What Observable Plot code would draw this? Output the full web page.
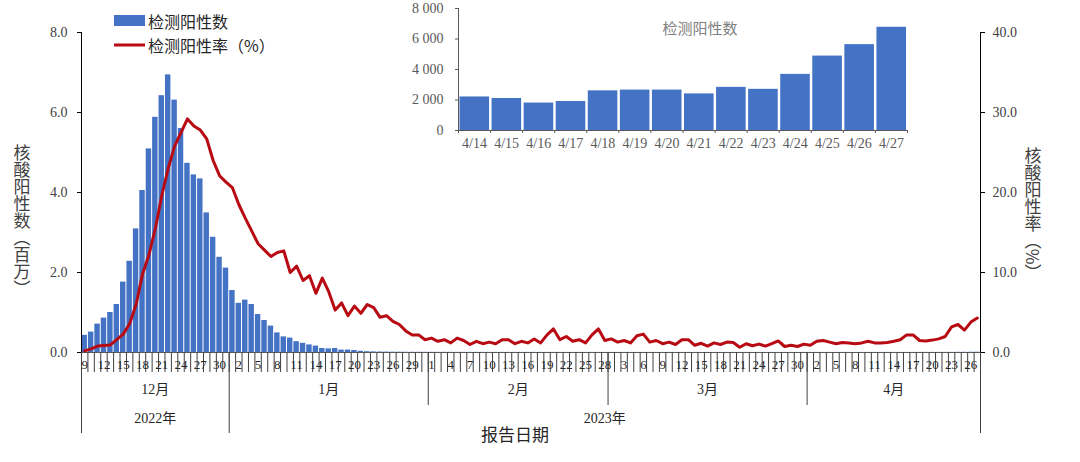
<!DOCTYPE html>
<html><head><meta charset="utf-8">
<script src="https://cdn.jsdelivr.net/npm/d3@7"></script>
<script src="https://cdn.jsdelivr.net/npm/@observablehq/plot@0.6"></script>
<style>
body{margin:0;background:#fff;}
#wrap{position:relative;width:1080px;height:462px;overflow:hidden;}
#main{position:absolute;left:0;top:0;}
#inset{position:absolute;left:400px;top:0;}
</style></head>
<body><div id="wrap"><div id="main"></div><div id="inset"></div></div>
<script>
// ---- data ----
const startDate = "2022-12-09";
// 检测阳性数 (百万) by month
const decPositives = [0.43,0.51,0.71,0.86,1.00,1.20,1.76,2.28,3.09,4.05,5.09,5.88,6.42,6.94,6.31,5.60,4.73,4.44,4.34,3.49,2.88,2.38,2.11];
const janPositives = [1.55,1.23,1.31,1.20,0.95,0.80,0.66,0.49,0.39,0.36,0.27,0.23,0.19,0.16,0.10,0.09,0.10,0.06,0.06,0.05,0.03,0.02,0.015,0.012,0.010,0.008,0.007,0.006,0.005,0.005,0.0045];
const febPositives = [0.0040,0.0038,0.0036,0.0035,0.0033,0.0031,0.0030,0.0029,0.0028,0.0027,0.0026,0.0026,0.0025,0.0025,0.0024,0.0024,0.0023,0.0023,0.0024,0.0025,0.0023,0.0022,0.0022,0.0021,0.0021,0.0022,0.0023,0.0022];
const marPositives = [0.0021,0.0020,0.0020,0.0019,0.0019,0.0020,0.0021,0.0020,0.0019,0.0018,0.0018,0.0017,0.0017,0.0018,0.0018,0.0017,0.0016,0.0016,0.0017,0.0017,0.0016,0.0016,0.0015,0.0016,0.0017,0.0016,0.0016,0.0015,0.0015,0.0016,0.0017];
const aprPositives1to13 = [0.0017,0.0018,0.0018,0.0017,0.0018,0.0019,0.0019,0.0018,0.0019,0.0020,0.0020,0.0021,0.0021];
// inset: 检测阳性数 4/14 - 4/27
const insetLabels = ["4/14","4/15","4/16","4/17","4/18","4/19","4/20","4/21","4/22","4/23","4/24","4/25","4/26","4/27"];
const insetCounts = [2200,2100,1800,1900,2600,2650,2650,2400,2830,2700,3680,4880,5630,6770];
// 检测阳性率 (%) by month
const decRate = [0.2,0.45,0.8,0.87,0.95,1.6,2.3,3.6,6.0,9.8,12.2,15.5,19.6,23.0,25.8,27.5,29.2,28.3,27.8,26.7,24.0,22.1,21.3];
const janRate = [20.6,18.5,16.8,15.2,13.6,12.8,12.0,12.5,12.7,10.0,10.8,9.0,9.6,7.4,9.3,7.6,5.3,6.2,4.6,5.8,4.9,6.0,5.6,4.4,4.6,3.9,3.5,2.7,2.2,2.2,1.6];
const febRate = [1.8,1.4,1.6,1.2,1.8,1.5,1.0,1.4,1.1,1.3,1.1,1.6,1.6,1.1,1.4,1.2,1.7,1.2,2.2,2.95,1.6,2.0,1.4,1.6,1.2,2.2,2.95,1.5];
const marRate = [1.7,1.3,1.5,1.2,2.1,2.3,1.3,1.5,1.1,1.3,1.0,1.6,1.6,0.9,1.15,0.8,1.2,1.0,1.3,1.25,0.65,1.1,0.85,1.05,0.8,1.1,1.45,0.75,0.9,0.75,1.05];
const aprRate = [0.9,1.4,1.5,1.3,1.1,1.25,1.2,1.1,1.2,1.4,1.2,1.2,1.25,1.4,1.6,2.2,2.2,1.5,1.45,1.55,1.7,2.0,3.2,3.5,2.8,3.8,4.3];
const monthNames = ["12月","1月","2月","3月","4月"];
const monthStarts = ["2022-12-09","2023-01-01","2023-02-01","2023-03-01","2023-04-01","2023-04-28"];
const yearNames = ["2022年","2023年"];
const yearStarts = ["2022-12-09","2023-01-01","2023-04-28"];
const leftTicks = [0,2,4,6,8];
const leftMax = 8, rightMax = 40;
const insetTicks = [0,2000,4000,6000,8000];

// ---- build ----
const DAY = 864e5;
const t0 = new Date(startDate + "T00:00:00Z");
const dayAt = i => new Date(t0.getTime() + i * DAY);
const toDate = s => new Date(s + "T00:00:00Z");
const positives = [...decPositives, ...janPositives, ...febPositives, ...marPositives, ...aprPositives1to13, ...insetCounts.map(c => c / 1e6)];
const rates = [...decRate, ...janRate, ...febRate, ...marRate, ...aprRate];
const rows = positives.map((v, i) => ({start: dayAt(i), end: dayAt(i + 1), mid: new Date(dayAt(i).getTime() + DAY / 2), pos: v, rate: rates[i]}));
const dayLabels = rows.filter((d, i) => i % 3 === 0).map(d => ({x: d.mid, text: String(d.mid.getUTCDate())}));
const months = monthNames.map((n, i) => ({name: n, x: new Date((toDate(monthStarts[i]).getTime() + toDate(monthStarts[i + 1]).getTime()) / 2)}));
const years = yearNames.map((n, i) => ({name: n, x: new Date((toDate(yearStarts[i]).getTime() + toDate(yearStarts[i + 1]).getTime()) / 2)}));
const dayBounds = d3.range(positives.length + 1).map(dayAt);
const monthBounds = monthStarts.slice(2, 5).map(toDate);
const yearBounds = yearStarts.map(toDate);
const xDomain = [dayAt(0), dayAt(positives.length)];
const serif = "Liberation Serif, Noto Sans CJK SC";
const cjk = "Noto Sans CJK SC, sans-serif";
const BLUE = "#4472C4", RED = "#B80A12";

const main = Plot.plot({
  width: 1080, height: 462,
  marginLeft: 81, marginRight: 100, marginTop: 32, marginBottom: 110,
  style: {fontFamily: serif, fontSize: "14px", color: "#404040", background: "transparent"},
  x: {type: "utc", domain: xDomain, axis: null},
  y: {domain: [0, leftMax], axis: null},
  marks: [
    Plot.rectY(rows, {x1: "start", x2: "end", y1: 0, y2: "pos", fill: BLUE, insetLeft: 0.5, insetRight: 0.5}),
    Plot.ruleY([0], {stroke: "#595959"}),
    Plot.ruleX([xDomain[0]], {stroke: "#000"}),
    Plot.ruleX([xDomain[1]], {stroke: "#000"}),
    Plot.axisY(leftTicks, {anchor: "left", tickSize: 4, tickPadding: 10, tickFormat: d => d.toFixed(1), label: null, fontSize: 14, fontFamily: serif, stroke: "#000"}),
    Plot.axisY(leftTicks, {anchor: "right", tickSize: 4, tickPadding: 8, tickFormat: d => (d * rightMax / leftMax).toFixed(1), label: null, fontSize: 14, fontFamily: serif, stroke: "#000"}),
    Plot.axisX(dayBounds, {tickSize: 20, tickFormat: () => "", label: null, stroke: "#404040"}),
    Plot.axisX(monthBounds, {tickSize: 53, tickFormat: () => "", label: null, stroke: "#404040"}),
    Plot.axisX(yearBounds, {tickSize: 81, tickFormat: () => "", label: null, stroke: "#404040"}),
    Plot.text(dayLabels, {x: "x", text: "text", frameAnchor: "bottom", dy: 16, fontSize: 13, fontFamily: serif, fill: "#262626"}),
    Plot.text(months, {x: "x", text: "name", frameAnchor: "bottom", dy: 41, fontSize: 14, fontFamily: serif, fill: "#262626"}),
    Plot.text(years, {x: "x", text: "name", frameAnchor: "bottom", dy: 70, fontSize: 14, fontFamily: serif, fill: "#262626"}),
    Plot.text(["报告日期"], {frameAnchor: "bottom", dx: -16, dy: 88, fontSize: 17, fontFamily: cjk, fill: "#262626"}),
    Plot.line(rows, {x: "mid", y: d => d.rate * leftMax / rightMax, stroke: RED, strokeWidth: 3, strokeLinejoin: "round"})
  ]
});
document.getElementById("main").append(main);

const s = d3.select(main);
function vtitle(x, y, t) {
  s.append("text").attr("x", x).attr("y", y).attr("text-anchor", "middle")
    .style("writing-mode", "vertical-rl").style("font-family", cjk).style("font-size", "17px")
    .attr("fill", "#404040").text(t);
}
vtitle(22, 221, "核酸阳性数︵百万︶");
vtitle(1033, 214, "核酸阳性率︵%︶");
// legend
const lg = s.append("g").attr("text-anchor", "start");
lg.append("rect").attr("x", 114).attr("y", 15).attr("width", 31).attr("height", 11).attr("fill", BLUE);
lg.append("text").attr("x", 148).attr("y", 21).attr("text-anchor", "start").attr("dominant-baseline", "central").style("font-family", cjk).style("font-size", "16px").attr("fill", "#262626").text("检测阳性数");
lg.append("line").attr("x1", 114).attr("x2", 145).attr("y1", 45).attr("y2", 45).attr("stroke", RED).attr("stroke-width", 3);
lg.append("text").attr("x", 148).attr("y", 45).attr("text-anchor", "start").attr("dominant-baseline", "central").style("font-family", cjk).style("font-size", "16px").attr("fill", "#262626").text("检测阳性率（%）");

// ---- inset ----
const i0 = toDate("2023-04-14");
const insetRows = insetCounts.map((v, i) => ({start: new Date(i0.getTime() + i * DAY), end: new Date(i0.getTime() + (i + 1) * DAY), mid: new Date(i0.getTime() + (i + 0.5) * DAY), v, label: insetLabels[i]}));
const insetBounds = d3.range(insetCounts.length + 1).map(i => new Date(i0.getTime() + i * DAY));
const inset = Plot.plot({
  width: 530, height: 160,
  marginLeft: 58, marginRight: 23, marginTop: 8, marginBottom: 30,
  style: {fontFamily: serif, fontSize: "14px", color: "#595959", background: "transparent"},
  x: {type: "utc", domain: [insetBounds[0], insetBounds[insetBounds.length - 1]], axis: null},
  y: {domain: [0, 8000], axis: null},
  marks: [
    Plot.rectY(insetRows, {x1: "start", x2: "end", y1: 0, y2: "v", fill: BLUE, insetLeft: 1.5, insetRight: 1}),
    Plot.ruleY([0], {stroke: "#595959"}),
    Plot.ruleX([insetBounds[0]], {stroke: "#595959"}),
    Plot.axisY(insetTicks, {anchor: "left", tickSize: 3, tickPadding: 12, tickFormat: d => d3.format(",")(d).replace(",", " "), label: null, fontSize: 14, fontFamily: serif, fill: "#595959", stroke: "#595959"}),
    Plot.axisX(insetBounds, {tickSize: 3, tickFormat: () => "", label: null, stroke: "#595959"}),
    Plot.text(insetRows, {x: "mid", text: "label", frameAnchor: "bottom", dy: 17, fontSize: 14, fontFamily: serif, fill: "#595959"}),
    Plot.text(["检测阳性数"], {frameAnchor: "top", dx: 17, dy: 15, fontSize: 15, fontFamily: cjk, fill: "#808080"})
  ]
});
document.getElementById("inset").append(inset);
</script>
</body></html>
